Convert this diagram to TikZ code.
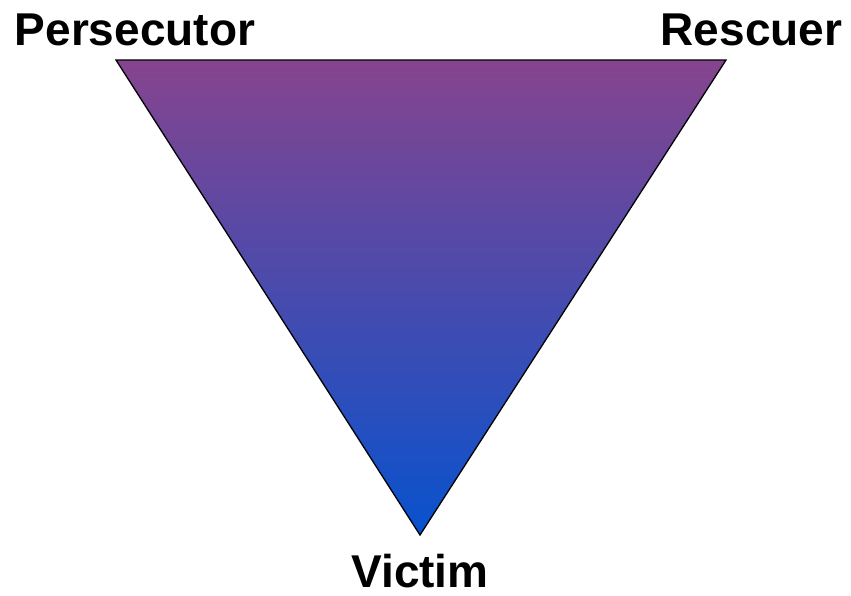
\documentclass[tikz,border=0pt]{standalone}
\usepackage{fontspec}
\setmainfont{Liberation Sans}
\begin{document}
\begin{tikzpicture}[x=1pt,y=-1pt,
  rolelabel/.style={font=\bfseries\fontsize{46}{50}\selectfont, inner sep=0pt, anchor=base, text=black}]
\useasboundingbox (0,0) rectangle (851,595);
\definecolor{toppurple}{RGB}{134,68,142}
\definecolor{botblue}{RGB}{8,82,206}
\coordinate (tl) at (116,60);
\coordinate (tr) at (726,60);
\coordinate (bt) at (420,535);
\shade[top color=toppurple, bottom color=botblue, draw=black, line width=1.3pt, line join=miter]
  (tl) -- (tr) -- (bt) -- cycle;
\node[rolelabel] (pers) at (135,45) {Persecutor};
\node[rolelabel] (resc) at (751.5,45) {Rescuer};
\node[rolelabel] (vict) at (420,587) {Victim};
\end{tikzpicture}
\end{document}
